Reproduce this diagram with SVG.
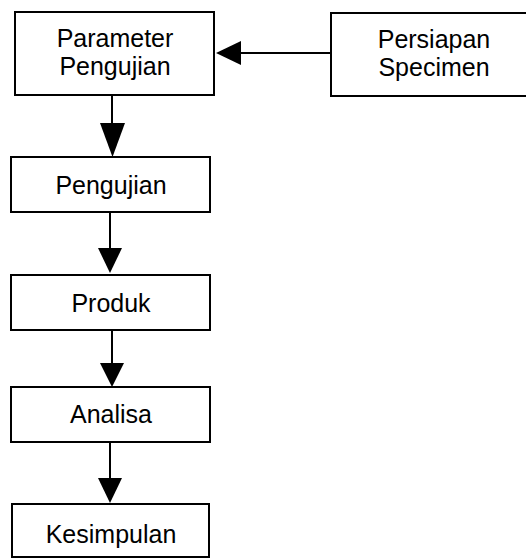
<svg xmlns="http://www.w3.org/2000/svg" width="526" height="559" viewBox="0 0 526 559">
<style>
.box{fill:#fff;stroke:#000;stroke-width:2}
.lbl{font-family:"Liberation Sans",Arial,sans-serif;font-size:25px;fill:#000;text-anchor:middle}
.ln{stroke:#000;stroke-width:2;fill:none}
.hd{fill:#000;stroke:none}
</style>
<rect width="526" height="559" fill="#fff"/>
<g id="connectors">
<line class="ln" x1="331" y1="53" x2="240" y2="53"/>
<polygon class="hd" points="216,53 241,41 241,65"/>
<line class="ln" x1="112" y1="96" x2="112" y2="124"/>
<polygon class="hd" points="100,123 125,123 112.5,157"/>
<line class="ln" x1="110" y1="213" x2="110" y2="249"/>
<polygon class="hd" points="98,248 122,248 110,273"/>
<line class="ln" x1="112" y1="331" x2="112" y2="364"/>
<polygon class="hd" points="100,363 124,363 112,387"/>
<line class="ln" x1="110" y1="443" x2="110" y2="479"/>
<polygon class="hd" points="98,478 122,478 110,503"/>
</g>
<g id="parameter">
<rect class="box" x="15" y="12" width="199" height="83"/>
<text class="lbl" x="115" y="47">Parameter</text>
<text class="lbl" x="115" y="75">Pengujian</text>
</g>
<g id="persiapan">
<rect class="box" x="331" y="13" width="210" height="83"/>
<text class="lbl" x="434" y="48">Persiapan</text>
<text class="lbl" x="434" y="76">Specimen</text>
</g>
<g id="pengujian">
<rect class="box" x="11" y="157" width="199" height="55"/>
<text class="lbl" x="111" y="194">Pengujian</text>
</g>
<g id="produk">
<rect class="box" x="11" y="275" width="199" height="55"/>
<text class="lbl" x="111" y="311.5">Produk</text>
</g>
<g id="analisa">
<rect class="box" x="11" y="387" width="199" height="55"/>
<text class="lbl" x="111" y="423">Analisa</text>
</g>
<g id="kesimpulan">
<rect class="box" x="12" y="504" width="197" height="53"/>
<text class="lbl" x="111" y="543">Kesimpulan</text>
</g>
</svg>
